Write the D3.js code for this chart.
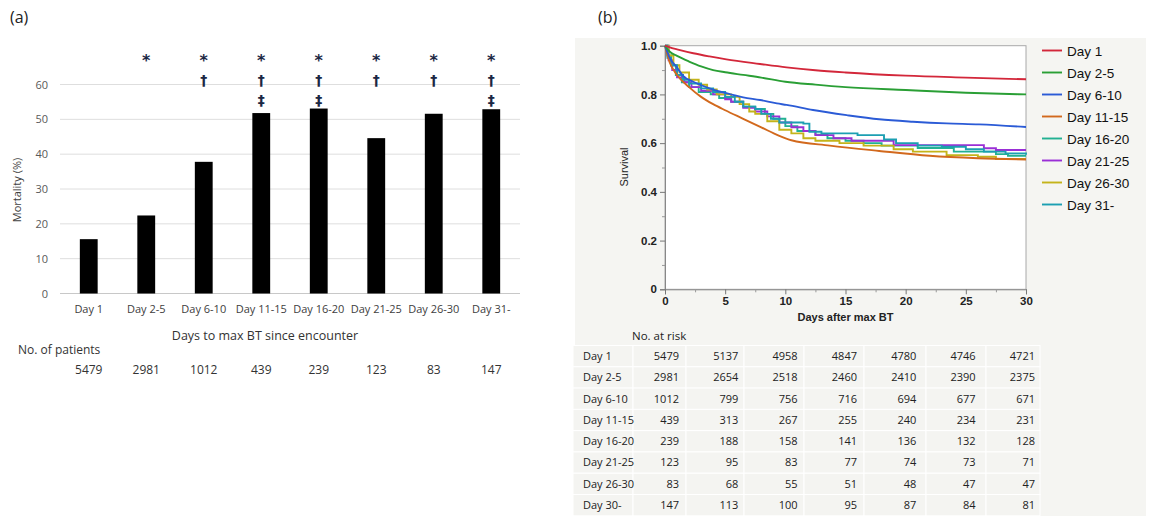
<!DOCTYPE html>
<html>
<head>
<meta charset="utf-8">
<script src="https://cdn.jsdelivr.net/npm/d3@7"></script>
<style>
  body { margin: 0; background: #fff; }
  svg { display: block; }
</style>
</head>
<body>
<div id="chart"></div>
<script>
// ---- panel (a) data
var categories = ["Day 1", "Day 2-5", "Day 6-10", "Day 11-15", "Day 16-20", "Day 21-25", "Day 26-30", "Day 31-"];
var mortality = [15.6, 22.4, 37.8, 51.8, 53.1, 44.6, 51.6, 52.9];
var patients = [5479, 2981, 1012, 439, 239, 123, 83, 147];
var markers = [[], ["*"], ["*", "†"], ["*", "†", "‡"], ["*", "†", "‡"], ["*", "†"], ["*", "†"], ["*", "†", "‡"]];
var mortTicks = [0, 10, 20, 30, 40, 50, 60];

// ---- panel (b) data
var groups = ["Day 1", "Day 2-5", "Day 6-10", "Day 11-15", "Day 16-20", "Day 21-25", "Day 26-30", "Day 31-"];
var groupColors = ["#d3273a", "#2a9f35", "#2b5bd6", "#d2691d", "#22b192", "#9a2fd6", "#c4b41a", "#1c9fb2"];
var stepped = [false, false, false, false, true, true, true, true];
var surv = [
  [[0,1],[0.4,0.993],[1,0.985],[2.35,0.969],[3.7,0.956],[5.1,0.944],[7.9,0.925],[10.1,0.911],[12.5,0.899],[15,0.89],[20,0.877],[25,0.869],[30,0.862]],
  [[0,1],[0.4,0.975],[1,0.958],[2,0.935],[3,0.915],[4,0.9],[5,0.891],[6.5,0.88],[8,0.869],[10,0.852],[12.5,0.84],[15,0.83],[20,0.818],[25,0.807],[30,0.8]],
  [[0,1],[0.4,0.95],[1,0.91],[1.5,0.876],[2.35,0.852],[3.7,0.825],[5.1,0.805],[6.5,0.788],[7.9,0.777],[9.3,0.763],[10.1,0.757],[12.3,0.736],[15.1,0.715],[17.8,0.698],[20.6,0.688],[23.4,0.681],[26.1,0.677],[30,0.666]],
  [[0,1],[0.4,0.93],[1,0.88],[2,0.83],[3,0.79],[4,0.76],[5,0.735],[6.5,0.7],[8,0.665],[9.5,0.63],[10.5,0.612],[13.7,0.59],[17.8,0.568],[22,0.548],[26,0.538],[30,0.533]],
  [[0,1],[0.2,0.96],[0.5,0.92],[0.9,0.88],[1.4,0.85],[2,0.83],[2.8,0.81],[3.8,0.8],[4.5,0.785],[5.5,0.77],[6.5,0.75],[7.5,0.74],[8.3,0.72],[9,0.7],[10,0.67],[11,0.65],[12.5,0.635],[13.5,0.62],[15,0.61],[16.5,0.6],[18,0.59],[21,0.58],[24,0.565],[27.5,0.555],[28.5,0.548],[30,0.548]],
  [[0,1],[0.3,0.94],[0.6,0.9],[1,0.87],[1.6,0.85],[2.2,0.83],[3,0.815],[4,0.8],[5,0.78],[5.5,0.77],[6.5,0.745],[7.5,0.73],[8.5,0.71],[9.5,0.685],[10.5,0.665],[11.5,0.65],[12.5,0.633],[14,0.62],[15.5,0.61],[19,0.592],[26.5,0.579],[27.5,0.572],[30,0.572]],
  [[0,1],[0.3,0.96],[0.7,0.92],[1.2,0.89],[2,0.86],[2.8,0.84],[3.5,0.82],[4.3,0.8],[5.5,0.79],[6.2,0.76],[7,0.73],[7.5,0.72],[8.5,0.69],[9.5,0.655],[10.5,0.64],[11.5,0.62],[12.5,0.61],[14.5,0.6],[16.5,0.59],[19,0.575],[20.6,0.565],[23.4,0.551],[26,0.544],[27.5,0.535],[30,0.535]],
  [[0,1],[0.2,0.95],[0.5,0.92],[1,0.88],[1.5,0.86],[2,0.845],[3,0.825],[4,0.81],[5,0.79],[5.8,0.77],[6.5,0.75],[7.5,0.74],[8,0.72],[8.8,0.7],[9.5,0.685],[11.5,0.68],[12,0.647],[13,0.64],[16,0.633],[18.2,0.615],[19.2,0.6],[21,0.59],[23,0.585],[25,0.575],[26.5,0.565],[28.3,0.558],[30,0.552]]
];
var survTicks = [0, 0.2, 0.4, 0.6, 0.8, 1.0];
var dayTicks = [0, 5, 10, 15, 20, 25, 30];

// ---- at-risk table
var riskRows = ["Day 1", "Day 2-5", "Day 6-10", "Day 11-15", "Day 16-20", "Day 21-25", "Day 26-30", "Day 30-"];
var atRisk = [
  [5479, 5137, 4958, 4847, 4780, 4746, 4721],
  [2981, 2654, 2518, 2460, 2410, 2390, 2375],
  [1012, 799, 756, 716, 694, 677, 671],
  [439, 313, 267, 255, 240, 234, 231],
  [239, 188, 158, 141, 136, 132, 128],
  [123, 95, 83, 77, 74, 73, 71],
  [83, 68, 55, 51, 48, 47, 47],
  [147, 113, 100, 95, 87, 84, 81]
];

var W = 1155, H = 516;
var svg = d3.select("#chart").append("svg")
  .attr("width", W).attr("height", H)
  .style("font-family", "'Open Sans', sans-serif");

// ===================== panel (a)
svg.append("text").attr("x", 10).attr("y", 23)
  .style("font-size", "16px").attr("fill", "#222").text("(a)");

var xa = d3.scaleBand().domain(categories).range([60, 520]).paddingInner(0.69).paddingOuter(0.345);
var ya = d3.scaleLinear().domain([0, 60]).range([293.5, 84.5]);

var ga = svg.append("g");
ga.selectAll("line.grid").data(mortTicks).enter().append("line")
  .attr("class", "grid")
  .attr("x1", 60).attr("x2", 520)
  .attr("y1", d => ya(d)).attr("y2", d => ya(d))
  .attr("stroke", d => d === 0 ? "#c8c8c8" : "#dedede").attr("stroke-width", 1);

var yaxisA = d3.axisLeft(ya).tickValues(mortTicks).tickSize(0).tickPadding(6);
ga.append("g").attr("transform", "translate(54,0)").call(yaxisA)
  .call(g => g.select(".domain").remove())
  .call(g => g.selectAll("text").style("font-size", "11px").attr("fill", "#595959").style("font-family", "'Open Sans', sans-serif"));

ga.selectAll("rect.bar").data(mortality).enter().append("rect")
  .attr("class", "bar")
  .attr("x", (d, i) => xa(categories[i]))
  .attr("width", xa.bandwidth())
  .attr("y", d => ya(d))
  .attr("height", d => ya(0) - ya(d))
  .attr("fill", "#000");

var xaxisA = d3.axisBottom(xa).tickSize(0).tickPadding(12);
ga.append("g").attr("transform", "translate(0," + ya(0) + ")").call(xaxisA)
  .call(g => g.select(".domain").remove())
  .call(g => g.selectAll("text").style("font-size", "11px").attr("fill", "#404040").style("font-family", "'Open Sans', sans-serif"));

// significance markers
var markY = [60, 80, 100];
markers.forEach(function (m, i) {
  ga.selectAll(null).data(m).enter().append("text")
    .attr("x", xa(categories[i]) + xa.bandwidth() / 2)
    .attr("y", (d, j) => markY[j] + (d === "*" ? 6 : 5))
    .attr("text-anchor", "middle")
    .style("font-size", d => d === "*" ? "16px" : "14px")
    .style("font-weight", "bold")
    .style("font-family", "'DejaVu Sans', sans-serif")
    .attr("fill", "#1b2744")
    .text(d => d);
});

ga.append("text")
  .attr("transform", "translate(21,190) rotate(-90)")
  .attr("text-anchor", "middle")
  .style("font-size", "11px").attr("fill", "#404040")
  .text("Mortality (%)");

ga.append("text").attr("x", 265).attr("y", 340)
  .attr("text-anchor", "middle").style("font-size", "12.5px").attr("fill", "#333")
  .text("Days to max BT since encounter");

ga.append("text").attr("x", 18).attr("y", 354)
  .style("font-size", "12px").attr("fill", "#333").text("No. of patients");

ga.selectAll("text.npat").data(patients).enter().append("text")
  .attr("class", "npat")
  .attr("x", (d, i) => xa(categories[i]) + xa.bandwidth() / 2)
  .attr("y", 374)
  .attr("text-anchor", "middle")
  .style("font-size", "12px").attr("fill", "#333")
  .text(d => d);

// ===================== panel (b)
svg.append("text").attr("x", 598).attr("y", 23)
  .style("font-size", "16px").attr("fill", "#222").text("(b)");

svg.append("rect").attr("x", 575).attr("y", 38).attr("width", 571).attr("height", 478)
  .attr("fill", "#f5f5f2");

var xb = d3.scaleLinear().domain([0, 30]).range([665, 1026]);
var yb = d3.scaleLinear().domain([0, 1]).range([289.3, 45.7]);

var gb = svg.append("g").style("font-family", "'Liberation Sans', Arial, sans-serif");
gb.append("rect").attr("x", xb(0)).attr("y", yb(1))
  .attr("width", xb(30) - xb(0)).attr("height", yb(0) - yb(1))
  .attr("fill", "#fff").attr("stroke", "#a8a8a8").attr("stroke-width", 1);

var yaxisB = d3.axisLeft(yb).tickValues(survTicks).tickSize(5).tickPadding(3)
  .tickFormat(d => d === 0 ? "0" : d3.format(".1f")(d));
gb.append("g").attr("transform", "translate(" + xb(0) + ",0)").call(yaxisB)
  .call(g => g.select(".domain").attr("stroke", "#888"))
  .call(g => g.selectAll(".tick line").attr("stroke", "#777"))
  .call(g => g.selectAll("text").style("font-size", "11.5px").style("font-weight", "bold").attr("fill", "#222"));
gb.append("g").attr("transform", "translate(" + xb(0) + ",0)")
  .call(d3.axisLeft(yb).tickValues([0.1, 0.3, 0.5, 0.7, 0.9]).tickSize(3).tickFormat(""))
  .call(g => g.select(".domain").remove())
  .call(g => g.selectAll(".tick line").attr("stroke", "#999"));

var xaxisB = d3.axisBottom(xb).tickValues(dayTicks).tickSize(5).tickPadding(3);
gb.append("g").attr("transform", "translate(0," + yb(0) + ")").call(xaxisB)
  .call(g => g.select(".domain").attr("stroke", "#888"))
  .call(g => g.selectAll(".tick line").attr("stroke", "#777"))
  .call(g => g.selectAll("text").style("font-size", "11.5px").style("font-weight", "bold").attr("fill", "#222"));
gb.append("g").attr("transform", "translate(0," + yb(0) + ")")
  .call(d3.axisBottom(xb).tickValues([2.5, 7.5, 12.5, 17.5, 22.5, 27.5]).tickSize(3).tickFormat(""))
  .call(g => g.select(".domain").remove())
  .call(g => g.selectAll(".tick line").attr("stroke", "#999"));

gb.append("text")
  .attr("transform", "translate(628,167) rotate(-90)")
  .attr("text-anchor", "middle").style("font-size", "11px").attr("fill", "#222")
  .text("Survival");

gb.append("text").attr("x", xb(15)).attr("y", 321)
  .attr("text-anchor", "middle").style("font-size", "11px").style("font-weight", "bold").attr("fill", "#222")
  .text("Days after max BT");

// curves
var smooth = d3.line().x(d => xb(d[0])).y(d => yb(d[1])).curve(d3.curveMonotoneX);
var steps = d3.line().x(d => xb(d[0])).y(d => yb(d[1])).curve(d3.curveStepAfter);
var order = [4, 5, 6, 7, 3, 2, 1, 0];
order.forEach(function (i) {
  gb.append("path")
    .attr("d", (stepped[i] ? steps : smooth)(surv[i]))
    .attr("fill", "none")
    .attr("stroke", groupColors[i])
    .attr("stroke-width", 1.9);
});

// legend
var leg = gb.selectAll("g.leg").data(groups).enter().append("g")
  .attr("class", "leg")
  .attr("transform", (d, i) => "translate(1042," + (50.5 + i * 22) + ")");
leg.append("line").attr("x1", 0).attr("x2", 20)
  .attr("stroke", (d, i) => groupColors[i]).attr("stroke-width", 1.9);
leg.append("text").attr("x", 25).attr("y", 5)
  .style("font-size", "13.5px").attr("fill", "#111").text(d => d);

// at-risk table
var gt = svg.append("g").style("font-family", "'Open Sans', sans-serif");
gt.append("text").attr("x", 632).attr("y", 340)
  .style("font-size", "11.5px").attr("fill", "#222").text("No. at risk");

var rowY = d3.scaleLinear().domain([0, 7]).range([356, 505]);
var colX = d3.scaleLinear().domain([0, 6]).range([679, 1035]);
var colEdges = [573, 633, 686, 744, 804, 864, 926, 986, 1040];

riskRows.forEach(function (r, i) {
  var y0 = rowY(i) - 10.5;
  for (var c = 0; c < colEdges.length - 1; c++) {
    gt.append("rect").attr("x", colEdges[c]).attr("y", y0)
      .attr("width", colEdges[c + 1] - colEdges[c]).attr("height", 21.3)
      .attr("fill", "#f4f4f1").attr("stroke", "#ffffff").attr("stroke-width", 1);
  }
});

gt.selectAll("text.rl").data(riskRows).enter().append("text")
  .attr("class", "rl")
  .attr("x", 583).attr("y", (d, i) => rowY(i) + 4)
  .style("font-size", "11px").attr("fill", "#222").text(d => d);

atRisk.forEach(function (row, i) {
  gt.selectAll(null).data(row).enter().append("text")
    .attr("x", (d, j) => colX(j)).attr("y", rowY(i) + 4)
    .attr("text-anchor", "end")
    .style("font-size", "11px").attr("fill", "#222").text(d => d);
});
</script>
</body>
</html>
